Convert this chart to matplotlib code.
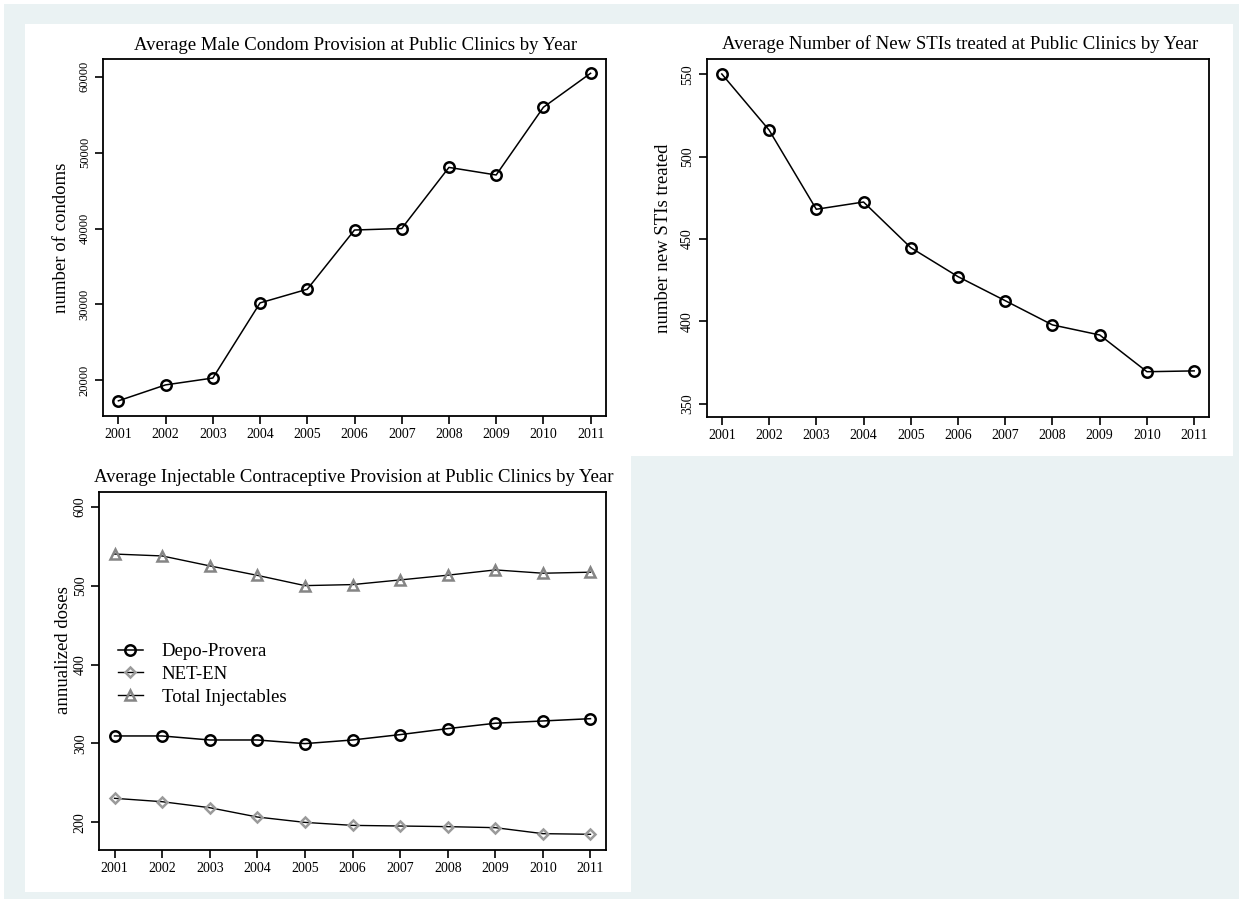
import matplotlib
matplotlib.use("Agg")
import matplotlib.pyplot as plt
from matplotlib.patches import Rectangle
from matplotlib.lines import Line2D

# ---- data ----
years = [2001, 2002, 2003, 2004, 2005, 2006, 2007, 2008, 2009, 2010, 2011]

condoms = [17300, 19400, 20300, 30200, 32000, 39800, 40000, 48050, 47050, 55970, 60450]
stis = [550.2, 516.2, 468.1, 472.5, 444.8, 427.2, 412.6, 397.9, 391.8, 369.5, 370.0]

depo = [309.5, 309.5, 304.4, 304.4, 299.8, 304.4, 311.2, 318.8, 325.6, 328.5, 331.4]
neten = [230.5, 226.2, 218.6, 206.8, 200.0, 196.2, 195.4, 194.6, 193.3, 185.7, 184.9]
total = [540.0, 537.6, 525.0, 513.0, 500.0, 501.3, 507.2, 513.2, 519.9, 515.7, 517.0]

condom_ticks = [20000, 30000, 40000, 50000, 60000]
sti_ticks = [350, 400, 450, 500, 550]
dose_ticks = [200, 300, 400, 500, 600]

titles = [
    "Average Male Condom Provision at Public Clinics by Year",
    "Average Number of New STIs treated at Public Clinics by Year",
    "Average Injectable Contraceptive Provision at Public Clinics by Year",
]
ylabels = ["number of condoms", "number new STIs treated", "annualized doses"]
legend_labels = ["Depo-Provera", "NET-EN", "Total Injectables"]

BG = "#EAF2F3"
W, H = 1243, 899
FONT = "Liberation Serif"
plt.rcParams["font.family"] = [FONT, "DejaVu Serif"]

fig = plt.figure(figsize=(W / 100, H / 100), dpi=100, facecolor="white")


def rect_px(x0, y0, x1, y1, color, z):
    r = Rectangle((x0 / W, 1 - y1 / H), (x1 - x0) / W, (y1 - y0) / H,
                  transform=fig.transFigure, facecolor=color, edgecolor="none", zorder=z)
    fig.add_artist(r)


def axes_px(l, t, r, b):
    return fig.add_axes([l / W, 1 - b / H, (r - l) / W, (b - t) / H])


# outer graph region and the three white panels
rect_px(4, 4, 1239, 899, BG, -10)
rect_px(25, 24, 1233, 456, "white", -9)
rect_px(25, 456, 631, 892, "white", -9)


def style(ax, yticks, ylim, ytick_size=10):
    ax.set_xlim(2000.68, 2011.32)
    ax.set_ylim(*ylim)
    ax.set_xticks(years)
    ax.set_yticks(yticks)
    ax.set_yticklabels([str(t) for t in yticks], rotation=90, va="center",
                       fontsize=ytick_size)
    ax.tick_params(axis="x", labelsize=10, length=6, width=1.2, pad=3)
    ax.tick_params(axis="y", length=6, width=1.2, pad=3)
    for s in ax.spines.values():
        s.set_linewidth(1.3)
    ax.set_facecolor("white")


def label_px(x, y, text, rot=0):
    fig.text(x / W, 1 - y / H, text, ha="center", va="center",
             rotation=rot, fontsize=13.5)


circle = dict(marker="o", markersize=7.5, markerfacecolor="none",
              markeredgecolor="black", markeredgewidth=1.8)
diamond = dict(marker="D", markersize=5.5, markerfacecolor="none",
               markeredgecolor="#9a9a9a", markeredgewidth=1.8)
triangle = dict(marker="^", markersize=7.5, markerfacecolor="none",
                markeredgecolor="#858585", markeredgewidth=1.8)

# panel 1: condoms
ax1 = axes_px(103.3, 59, 605.7, 416)
ax1.plot(years, condoms, color="black", lw=1.1, **circle)
style(ax1, condom_ticks, (15300, 62330), ytick_size=9)
label_px(355.5, 45, titles[0])
label_px(62, 237.5, ylabels[0], rot=90)

# panel 2: STIs
ax2 = axes_px(706.7, 59, 1209.3, 416.7)
ax2.plot(years, stis, color="black", lw=1.1, **circle)
style(ax2, sti_ticks, (342.2, 559.3))
label_px(960, 44, titles[1])
label_px(663, 238, ylabels[1], rot=90)

# panel 3: injectables
ax3 = axes_px(99.3, 491.7, 605.7, 850)
ax3.plot(years, depo, color="black", lw=1.1, **circle)
ax3.plot(years, neten, color="black", lw=1.0, **diamond)
ax3.plot(years, total, color="black", lw=1.0, **triangle)
style(ax3, dose_ticks, (165, 619))
label_px(354, 478, titles[2])
label_px(64, 650, ylabels[2], rot=90)

handles = [
    Line2D([], [], color="black", lw=1.1, **circle),
    Line2D([], [], color="black", lw=1.0, **diamond),
    Line2D([], [], color="black", lw=1.0, **triangle),
]
ax3.legend(handles, legend_labels, loc="center left", bbox_to_anchor=(0.036, 0.49),
           frameon=False, fontsize=13.5, borderaxespad=0, borderpad=0,
           handlelength=1.35, handletextpad=1.0, labelspacing=0.3)

fig.savefig("out.png", dpi=100, facecolor="white")
